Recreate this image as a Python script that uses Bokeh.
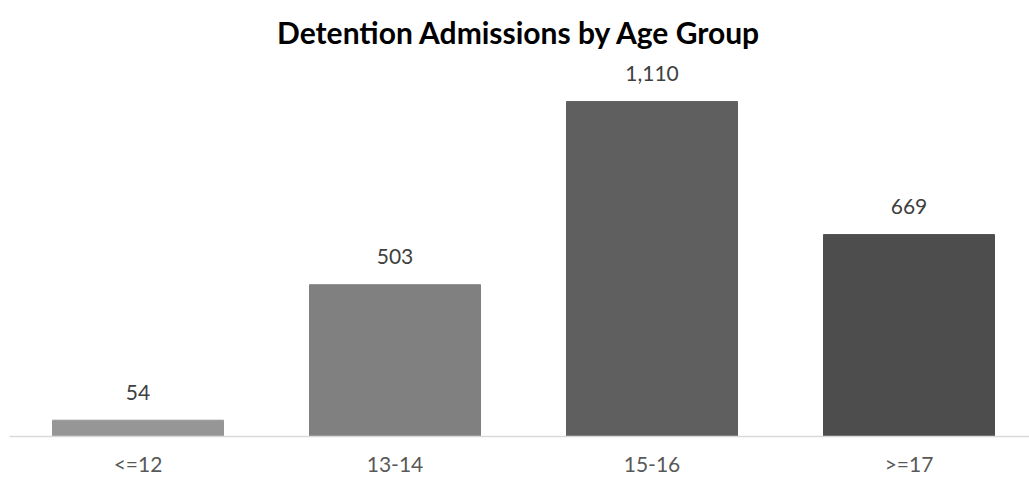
from bokeh.plotting import figure
from bokeh.models import ColumnDataSource, Range1d, FixedTicker, Title
from bokeh.core.properties import value
from bokeh.embed import file_html
from bokeh.resources import INLINE

categories = ["<=12", "13-14", "15-16", ">=17"]
values = [54, 503, 1110, 669]
labels = ["54", "503", "1,110", "669"]
colors = ["#969696", "#808080", "#5f5f5f", "#4d4d4d"]

xs = [i + 0.5 for i in range(len(categories))]
src = ColumnDataSource(dict(x=xs, top=values, lab=labels, color=colors))

p = figure(width=1029, height=479, output_backend="svg", toolbar_location=None,
           x_range=Range1d(0, 1020 / 257), y_range=Range1d(0, 1246),
           min_border_left=9, min_border_right=0, min_border_top=60, min_border_bottom=43)
p.title = Title(text="Detention Admissions by Age Group", align="center",
                text_font="Lato", text_font_size="30px", text_font_style="bold",
                text_color="#000000", standoff=22)
p.vbar(x="x", top="top", bottom=0, width=171/257, color="color", source=src)
p.text(x="x", y="top", text="lab", source=src, text_align="center", text_baseline="alphabetic",
       y_offset=-28, text_font_size="21px", text_color="#404040", text_font=value("Lato"))

p.xaxis.ticker = FixedTicker(ticks=xs)
p.xaxis.major_label_overrides = {x: c for x, c in zip(xs, categories)}
p.xaxis.major_tick_line_color = None
p.xaxis.major_tick_out = 0
p.xaxis.major_tick_in = 0
p.xaxis.minor_tick_line_color = None
p.xaxis.axis_line_color = "#d9d9d9"
p.xaxis.axis_line_width = 1.5
p.xaxis.major_label_text_font = "Lato"
p.xaxis.major_label_text_font_size = "21px"
p.xaxis.major_label_text_color = "#595959"
p.xaxis.major_label_standoff = 14
p.yaxis.visible = False
p.xgrid.visible = False
p.ygrid.visible = False
p.outline_line_color = None

open("out.html", "w").write(file_html(p, INLINE))
